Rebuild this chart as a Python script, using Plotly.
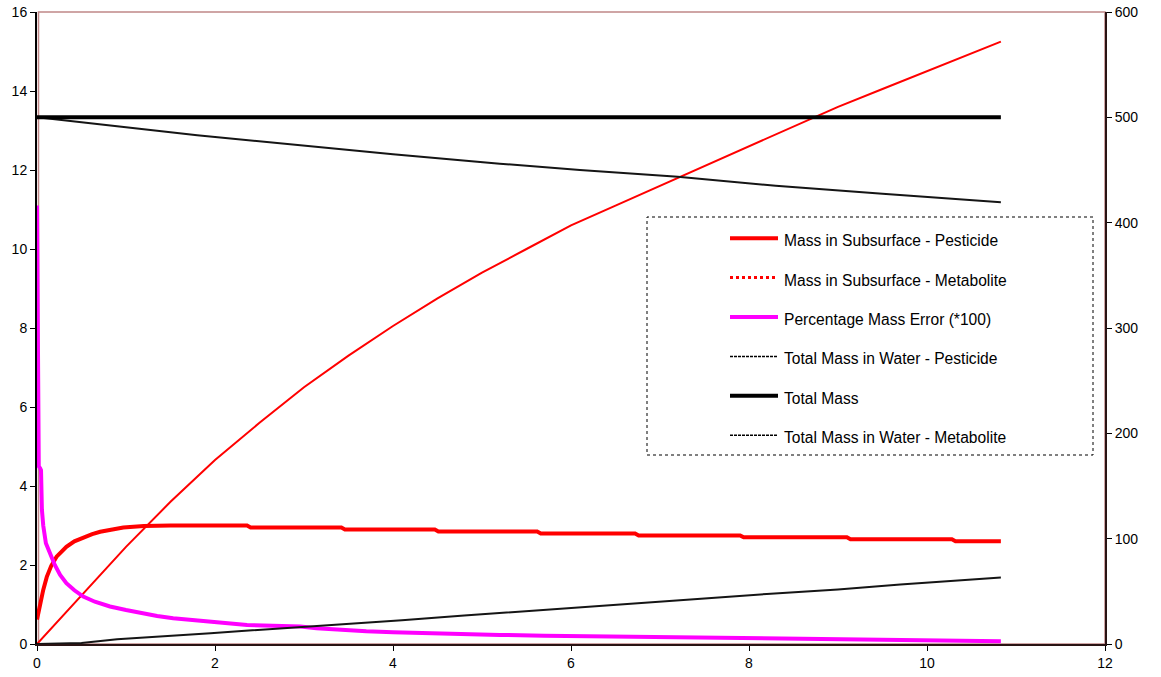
import plotly.graph_objects as go

# ---- series (time axis in the same units as the x axis) ----
# Mass in Subsurface - Pesticide (left axis)
t_sub_pest = [0, 0.03, 0.07, 0.11, 0.16, 0.22, 0.33, 0.42, 0.52, 0.62, 0.71, 0.85, 0.97,
              1.2, 1.5, 2.36, 2.40, 3.42, 3.46, 4.47, 4.51, 5.62, 5.66, 6.72, 6.76,
              7.90, 7.94, 9.10, 9.14, 10.28, 10.32, 10.83]
sub_pest = [0.62, 0.95, 1.37, 1.70, 1.98, 2.21, 2.46, 2.60, 2.70, 2.78, 2.84, 2.90, 2.95,
            2.99, 3.0, 3.0, 2.95, 2.95, 2.90, 2.90, 2.85, 2.85, 2.80, 2.80, 2.75,
            2.75, 2.70, 2.70, 2.65, 2.65, 2.60, 2.60]

# Mass in Subsurface - Metabolite (left axis)
t_sub_met = [0, 0.5, 1.0, 1.5, 2.0, 2.5, 3.0, 3.5, 4.0, 4.5, 5.0, 5.5, 6.0, 6.5, 7.0,
             7.5, 8.0, 8.5, 9.0, 9.5, 10.0, 10.5, 10.83]
sub_met = [0, 1.23, 2.46, 3.6, 4.66, 5.6, 6.5, 7.3, 8.05, 8.75, 9.4, 10.0, 10.6, 11.1,
           11.6, 12.1, 12.6, 13.1, 13.6, 14.05, 14.5, 14.95, 15.25]

# Percentage Mass Error (*100) (left axis)
t_err = [0, 0.008, 0.015, 0.02, 0.035, 0.045, 0.055, 0.07, 0.1, 0.15, 0.2, 0.26, 0.33,
         0.42, 0.52, 0.65, 0.82, 1.0, 1.16, 1.35, 1.53, 1.7, 1.91, 2.1, 2.36, 2.65, 2.96,
         3.14, 3.4, 3.7, 4.0, 4.38, 4.8, 5.2, 5.7, 6.33, 7.0, 7.6, 8.5, 9.4, 10.1, 10.83]
err = [11.1, 8.0, 5.0, 4.5, 4.45, 4.4, 3.4, 3.0, 2.55, 2.25, 2.0, 1.75, 1.54,
       1.36, 1.2, 1.07, 0.95, 0.86, 0.78, 0.71, 0.65, 0.61, 0.57, 0.53, 0.48, 0.46, 0.44,
       0.40, 0.36, 0.32, 0.30, 0.27, 0.25, 0.23, 0.21, 0.19, 0.175, 0.16, 0.13, 0.10, 0.085, 0.07]

# Total Mass in Water - Pesticide (right axis)
t_water_pest = [0, 0.4, 0.9, 1.8, 2.9, 4.0, 5.2, 6.1, 7.2, 8.3, 9.5, 10.5, 10.83]
water_pest = [500, 496.5, 491.5, 483, 474, 465, 456, 450, 443.5, 435, 427.5, 421, 419.5]

# Total Mass (right axis)
t_total = [0, 10.83]
total = [500, 500]

# Total Mass in Water - Metabolite (right axis)
t_water_met = [0, 0.5, 0.9, 1.3, 1.6, 1.95, 2.3, 2.6, 2.9, 3.2, 3.5, 3.8, 4.1, 4.8, 5.6,
               6.3, 7.1, 7.5, 8.2, 9.0, 9.7, 10.45, 10.83]
water_met = [0, 1.0, 4.4, 6.3, 8.2, 10.1, 12.3, 13.9, 15.5, 17.0, 19, 20.9, 22.5, 27, 32,
             36.3, 41.2, 43.2, 47.5, 51.8, 56.5, 60.8, 63.2]

# axis ticks
x_ticks = [0, 2, 4, 6, 8, 10, 12]
left_ticks = [0, 2, 4, 6, 8, 10, 12, 14, 16]
right_ticks = [0, 100, 200, 300, 400, 500, 600]

legend_names = [
    "Mass in Subsurface - Pesticide",
    "Mass in Subsurface - Metabolite",
    "Percentage Mass Error (*100)",
    "Total Mass in Water - Pesticide",
    "Total Mass",
    "Total Mass in Water - Metabolite",
]

FONT = "Liberation Sans, Arial, sans-serif"
W, H = 1161, 677
L, R, T, B = 37, 1105, 12, 644   # plot area edges in pixels


def fx(p):
    return (p - L) / (R - L)


def fy(p):
    return (B - p) / (B - T)


fig = go.Figure()

fig.add_trace(go.Scatter(x=t_sub_pest, y=sub_pest, name=legend_names[0], mode="lines",
                         line=dict(color="#FF0000", width=4), yaxis="y"))
fig.add_trace(go.Scatter(x=t_sub_met, y=sub_met, name=legend_names[1], mode="lines",
                         line=dict(color="#FF0000", width=2), yaxis="y"))
fig.add_trace(go.Scatter(x=t_err, y=err, name=legend_names[2], mode="lines",
                         line=dict(color="#FF00FF", width=4), yaxis="y"))
fig.add_trace(go.Scatter(x=t_water_pest, y=water_pest, name=legend_names[3], mode="lines",
                         line=dict(color="#151515", width=2), yaxis="y2"))
fig.add_trace(go.Scatter(x=t_total, y=total, name=legend_names[4], mode="lines",
                         line=dict(color="#000000", width=4), yaxis="y2"))
fig.add_trace(go.Scatter(x=t_water_met, y=water_met, name=legend_names[5], mode="lines",
                         line=dict(color="#151515", width=2), yaxis="y2"))

tick_font = dict(family=FONT, size=14, color="#000000")

fig.update_layout(
    template="none",
    width=W, height=H, autosize=False,
    margin=dict(l=L, r=W - R, t=T, b=H - B, pad=0, autoexpand=False),
    paper_bgcolor="white", plot_bgcolor="white",
    showlegend=False,
    xaxis=dict(range=[0, 12], tickvals=x_ticks, ticks="outside", ticklen=5, tickwidth=1,
               tickcolor="#000000", showline=True, linecolor="#2a1414", linewidth=2,
               showgrid=False, zeroline=False, tickfont=tick_font, automargin=False),
    yaxis=dict(range=[0, 16], tickvals=left_ticks, ticks="outside", ticklen=5, tickwidth=1,
               tickcolor="#000000", showline=True, linecolor="#000000", linewidth=2,
               showgrid=False, zeroline=False, tickfont=tick_font, automargin=False),
    yaxis2=dict(range=[0, 600], tickvals=right_ticks, ticks="outside", ticklen=5, tickwidth=1,
                tickcolor="#000000", showline=True, linecolor="#2a1414", linewidth=2,
                showgrid=False, zeroline=False, tickfont=tick_font, automargin=False,
                overlaying="y", side="right", anchor="x"),
    yaxis3=dict(range=[0, 600], tickvals=right_ticks, ticks="inside", ticklen=5, tickwidth=1,
                tickcolor="#000000", showline=False, showgrid=False, zeroline=False,
                showticklabels=False, automargin=False,
                overlaying="y", side="right", anchor="x"),
)

shapes = []
# plot-area frame
shapes.append(dict(type="rect", xref="paper", yref="paper", x0=fx(L + 1.5), x1=1, y0=0, y1=1,
                   line=dict(color="#C08888", width=1.5), layer="below"))
# legend box
shapes.append(dict(type="rect", xref="paper", yref="paper", x0=fx(647), x1=fx(1093),
                   y0=fy(455), y1=fy(217), line=dict(color="#000000", width=1, dash="dot"),
                   fillcolor="white", layer="above"))

sample_styles = [
    dict(color="#FF0000", width=4),
    dict(color="#FF0000", width=3, dash="dot"),
    dict(color="#FF00FF", width=4),
    dict(color="#000000", width=1.5, dash="3px,1px"),
    dict(color="#000000", width=4),
    dict(color="#000000", width=1.5, dash="3px,1px"),
]

annotations = []
row0, row_gap = 240.7, 39.4
for i, name in enumerate(legend_names):
    cy = row0 + i * row_gap
    shapes.append(dict(type="line", xref="paper", yref="paper", x0=fx(730), x1=fx(778),
                       y0=fy(cy - 2.5), y1=fy(cy - 2.5), line=sample_styles[i], layer="above"))
    annotations.append(dict(text=name, xref="paper", yref="paper", x=fx(782), y=fy(cy),
                            xanchor="left", yanchor="middle", showarrow=False,
                            font=dict(family=FONT, size=15.6, color="#000000")))

fig.update_layout(shapes=shapes, annotations=annotations)

fig.write_html("out.html")
